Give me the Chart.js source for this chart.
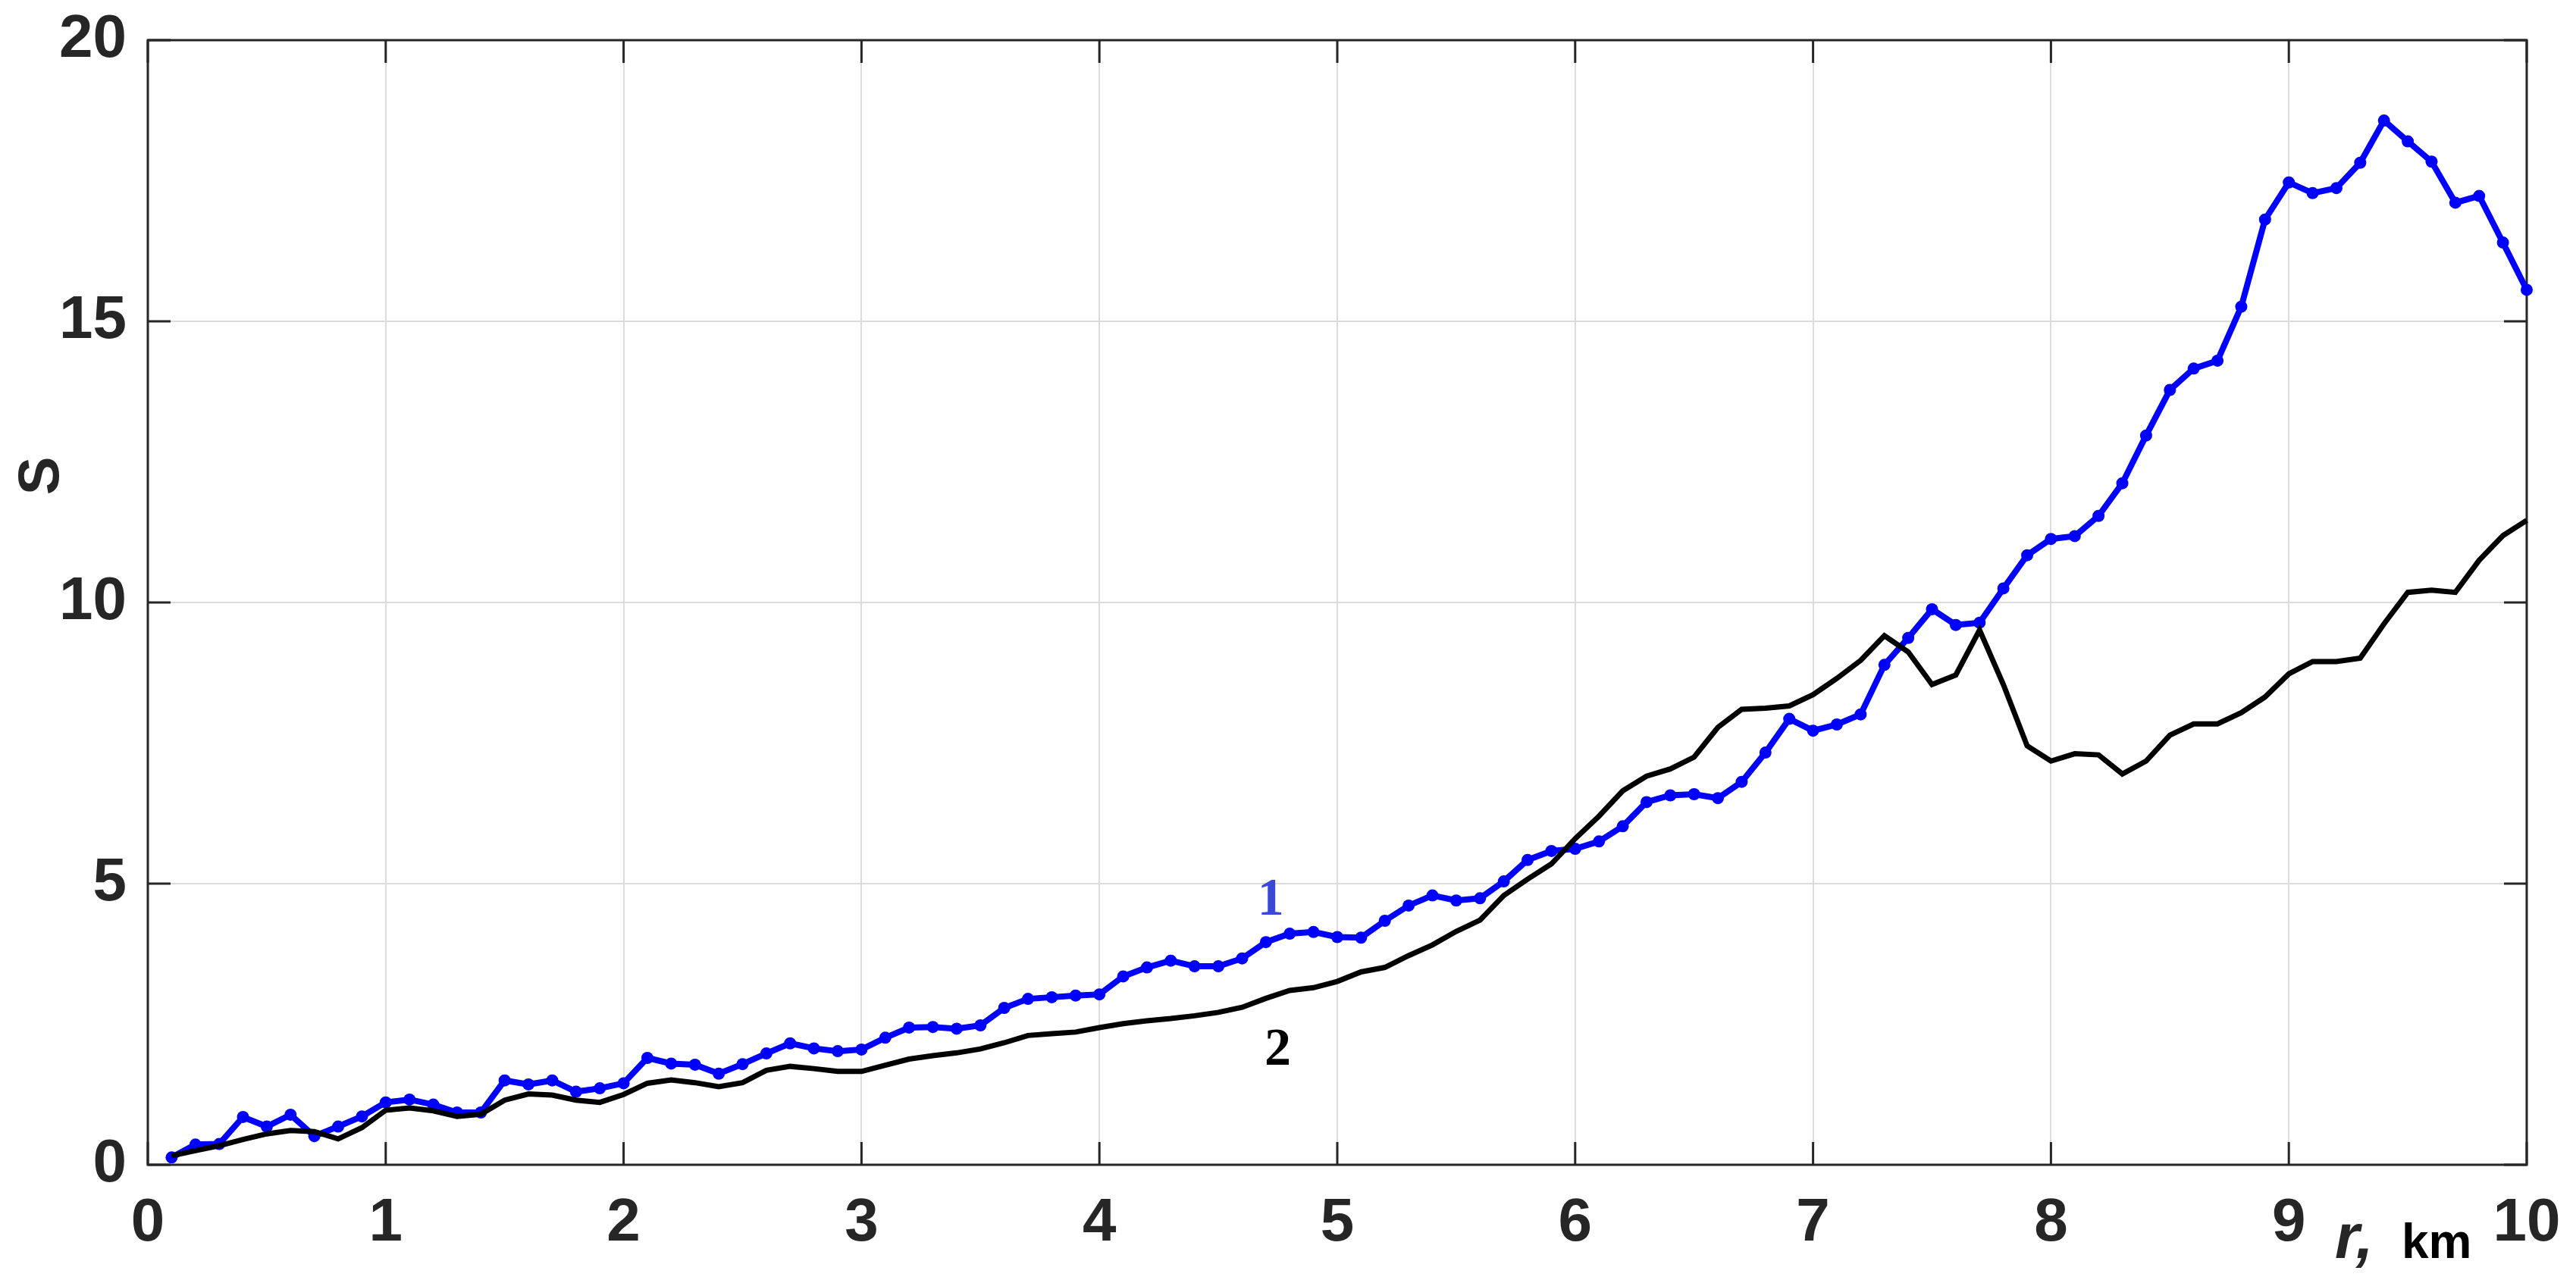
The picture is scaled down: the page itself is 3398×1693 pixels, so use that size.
<!DOCTYPE html>
<html>
<head>
<meta charset="utf-8">
<script src="https://cdn.jsdelivr.net/npm/chart.js@4.4.1/dist/chart.umd.min.js"></script>
<style>
  html, body { margin: 0; padding: 0; background: #fff; }
  #wrap { width: 3398px; height: 1693px; }
</style>
</head>
<body>
<div id="wrap"><canvas id="lineChart"></canvas></div>
<script>
// r, km
const rValues = [
  0.1, 0.2, 0.3, 0.4, 0.5, 0.6, 0.7, 0.8, 0.9, 1.0,
  1.1, 1.2, 1.3, 1.4, 1.5, 1.6, 1.7, 1.8, 1.9, 2.0,
  2.1, 2.2, 2.3, 2.4, 2.5, 2.6, 2.7, 2.8, 2.9, 3.0,
  3.1, 3.2, 3.3, 3.4, 3.5, 3.6, 3.7, 3.8, 3.9, 4.0,
  4.1, 4.2, 4.3, 4.4, 4.5, 4.6, 4.7, 4.8, 4.9, 5.0,
  5.1, 5.2, 5.3, 5.4, 5.5, 5.6, 5.7, 5.8, 5.9, 6.0,
  6.1, 6.2, 6.3, 6.4, 6.5, 6.6, 6.7, 6.8, 6.9, 7.0,
  7.1, 7.2, 7.3, 7.4, 7.5, 7.6, 7.7, 7.8, 7.9, 8.0,
  8.1, 8.2, 8.3, 8.4, 8.5, 8.6, 8.7, 8.8, 8.9, 9.0,
  9.1, 9.2, 9.3, 9.4, 9.5, 9.6, 9.7, 9.8, 9.9, 10.0,
];

// curve 1 (blue, with dots)
const series1 = [
  0.13, 0.36, 0.37, 0.85, 0.68, 0.89, 0.51, 0.68, 0.86, 1.11,
  1.16, 1.07, 0.93, 0.93, 1.50, 1.43, 1.50, 1.30, 1.36, 1.45,
  1.90, 1.80, 1.78, 1.62, 1.79, 1.98, 2.16, 2.07, 2.02, 2.05,
  2.26, 2.44, 2.45, 2.42, 2.48, 2.79, 2.95, 2.98, 3.01, 3.03,
  3.35, 3.51, 3.63, 3.53, 3.53, 3.67, 3.96, 4.11, 4.14, 4.05,
  4.04, 4.34, 4.61, 4.79, 4.70, 4.74, 5.04, 5.42, 5.58, 5.62,
  5.75, 6.02, 6.45, 6.57, 6.59, 6.52, 6.81, 7.33, 7.93, 7.72,
  7.83, 8.01, 8.89, 9.37, 9.88, 9.60, 9.64, 10.25, 10.84, 11.13,
  11.18, 11.54, 12.12, 12.97, 13.78, 14.16, 14.30, 15.26, 16.81, 17.47,
  17.28, 17.37, 17.82, 18.57, 18.20, 17.84, 17.11, 17.23, 16.40, 15.56,
];

// curve 2 (black)
const series2 = [
  0.16, 0.25, 0.34, 0.45, 0.55, 0.61, 0.59, 0.46, 0.66, 0.97,
  1.01, 0.96, 0.86, 0.90, 1.15, 1.26, 1.24, 1.15, 1.11, 1.25,
  1.45, 1.51, 1.46, 1.39, 1.46, 1.68, 1.75, 1.71, 1.66, 1.66,
  1.77, 1.88, 1.94, 1.99, 2.06, 2.17, 2.30, 2.33, 2.36, 2.44,
  2.51, 2.56, 2.60, 2.65, 2.71, 2.80, 2.96, 3.10, 3.15, 3.26,
  3.43, 3.51, 3.72, 3.91, 4.15, 4.35, 4.79, 5.08, 5.35, 5.80,
  6.20, 6.65, 6.91, 7.04, 7.25, 7.78, 8.10, 8.12, 8.16, 8.36,
  8.65, 8.97, 9.41, 9.12, 8.54, 8.71, 9.51, 8.54, 7.45, 7.18,
  7.31, 7.29, 6.95, 7.18, 7.64, 7.84, 7.84, 8.04, 8.32, 8.73,
  8.95, 8.95, 9.01, 9.62, 10.18, 10.22, 10.18, 10.75, 11.19, 11.46,
];

const xTicks = [0, 1, 2, 3, 4, 5, 6, 7, 8, 9, 10];
const yTicks = [0, 5, 10, 15, 20];

const axisColor = '#262626';
const sansFont = '"Liberation Sans", Arial, sans-serif';
const serifFont = '"Liberation Serif", "Times New Roman", serif';

const toPoints = (ys) => ys.map((v, i) => ({ x: rValues[i], y: v }));

// box round the plot and MATLAB-like inward ticks
const frame = {
  id: 'frame',
  beforeDatasetsDraw(chart) {
    const { ctx, chartArea: a, scales } = chart;
    const tl = 30;
    ctx.save();
    ctx.strokeStyle = axisColor;
    ctx.lineWidth = 3;
    ctx.strokeRect(a.left, a.top, a.right - a.left, a.bottom - a.top);
    ctx.beginPath();
    xTicks.forEach((v) => {
      const px = scales.x.getPixelForValue(v);
      ctx.moveTo(px, a.bottom);
      ctx.lineTo(px, a.bottom - tl);
      ctx.moveTo(px, a.top);
      ctx.lineTo(px, a.top + tl);
    });
    yTicks.forEach((v) => {
      const py = scales.y.getPixelForValue(v);
      ctx.moveTo(a.left, py);
      ctx.lineTo(a.left + tl, py);
      ctx.moveTo(a.right, py);
      ctx.lineTo(a.right - tl, py);
    });
    ctx.stroke();
    ctx.restore();
  },
  afterDraw(chart) {
    const { ctx, scales } = chart;
    ctx.save();
    // y axis name
    ctx.translate(56, 628);
    ctx.rotate(-Math.PI / 2);
    ctx.font = 'bold 76px ' + sansFont;
    ctx.fillStyle = axisColor;
    ctx.textAlign = 'center';
    ctx.textBaseline = 'middle';
    ctx.fillText('S', 0, 0);
    ctx.restore();

    ctx.save();
    // x axis name
    ctx.textBaseline = 'alphabetic';
    ctx.textAlign = 'left';
    ctx.fillStyle = axisColor;
    ctx.font = 'italic bold 83px ' + sansFont;
    ctx.fillText('r,', 3080, 1660);
    ctx.fillStyle = '#000';
    ctx.font = 'bold 64px ' + sansFont;
    ctx.fillText('km', 3168, 1660);

    // curve numbers
    ctx.textAlign = 'center';
    ctx.font = 'bold 70px ' + serifFont;
    ctx.fillStyle = '#3a48d6';
    ctx.fillText('1', scales.x.getPixelForValue(4.72), scales.y.getPixelForValue(4.45));
    ctx.fillStyle = '#000';
    ctx.fillText('2', scales.x.getPixelForValue(4.75), scales.y.getPixelForValue(1.78));
    ctx.restore();
  },
};

const ctx = document.getElementById('lineChart').getContext('2d');

new Chart(ctx, {
  type: 'line',
  data: {
    datasets: [
      {
        label: '2',
        data: toPoints(series2),
        borderColor: '#000',
        borderWidth: 7,
        pointRadius: 0,
        tension: 0,
        clip: false,
      },
      {
        label: '1',
        data: toPoints(series1),
        borderColor: '#0000ff',
        backgroundColor: '#0000ff',
        borderWidth: 8,
        pointRadius: 8,
        pointBorderWidth: 0,
        pointBackgroundColor: '#0000ff',
        tension: 0,
        clip: false,
      },
    ],
  },
  options: {
    responsive: true,
    maintainAspectRatio: false,
    animation: false,
    events: [],
    layout: {
      padding: { left: 0, top: 53, right: 65, bottom: 0 },
    },
    plugins: {
      legend: { display: false },
      tooltip: { enabled: false },
    },
    scales: {
      x: {
        type: 'linear',
        min: 0,
        max: 10,
        afterFit: (scale) => {
          scale.height = 156;
          scale.paddingLeft = 0;
          scale.paddingRight = 0;
        },
        border: { display: false },
        grid: {
          color: '#dcdcdc',
          lineWidth: 2,
          drawTicks: false,
        },
        ticks: {
          stepSize: 1,
          padding: 30,
          color: axisColor,
          font: { family: sansFont, size: 80, weight: 'bold' },
          maxRotation: 0,
        },
      },
      y: {
        min: 0,
        max: 20,
        afterFit: (scale) => {
          scale.width = 195;
          scale.paddingTop = 0;
          scale.paddingBottom = 0;
        },
        border: { display: false },
        grid: {
          color: '#dcdcdc',
          lineWidth: 2,
          drawTicks: false,
        },
        ticks: {
          stepSize: 5,
          padding: 28,
          color: axisColor,
          font: { family: sansFont, size: 80, weight: 'bold' },
        },
      },
    },
  },
  plugins: [frame],
});
</script>
</body>
</html>
